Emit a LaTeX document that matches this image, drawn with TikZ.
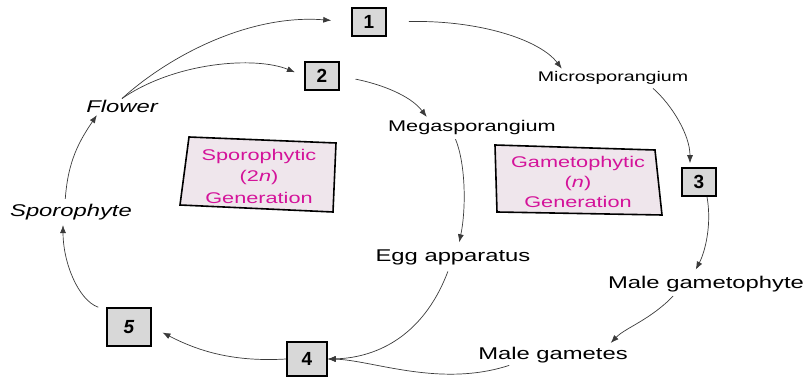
\documentclass[tikz,border=0pt]{standalone}
\usepackage{fontspec}
\setmainfont{Liberation Sans}[FakeStretch=1.4]
\newfontfamily\numfont{Liberation Sans}
\usetikzlibrary{arrows.meta}
\definecolor{boxgray}{HTML}{D8D8D8}
\definecolor{genfill}{HTML}{EFE6EC}
\definecolor{genink}{HTML}{D4139A}
\definecolor{lineink}{HTML}{3A3A3A}
\begin{document}
\begin{tikzpicture}[x=1pt,y=-1pt,
 numbox/.style={draw=black, line width=1.6pt, fill=boxgray, minimum width=34pt, minimum height=28pt, inner sep=0pt, font=\numfont\fontsize{19}{19}\selectfont\bfseries},
 lbl/.style={font=\fontsize{17}{20}\selectfont, inner sep=1pt},
 ilbl/.style={font=\fontsize{17}{20}\selectfont\itshape, inner sep=1pt},
 arr/.style={draw=lineink, line width=0.7pt, -{Latex[length=8pt,width=6pt]}},
 gen/.style={draw=black, line width=1.6pt, fill=genfill},
 gentext/.style={text=genink, align=center, font=\fontsize{15.5}{21.5}\selectfont}]
\useasboundingbox (0,0) rectangle (807,382);

% generation boxes
\draw[gen] (189,137) -- (336,143) -- (333,212) -- (180,205) -- cycle;
\node[gentext] (spgen) at (259,176) {Sporophytic\\(2\textit{n})\\Generation};
\draw[gen] (495,145) -- (655,150) -- (662,215) -- (497,212) -- cycle;
\node[gentext, font=\fontsize{15.5}{20}\selectfont] (gagen) at (578,182) {Gametophytic\\(\textit{n})\\Generation};

% numbered boxes
\node[numbox] (b1) at (369,22) {1};
\node[numbox] (b2) at (322,76) {2};
\node[numbox] (b3) at (699,182) {3};
\node[numbox, minimum width=40pt, minimum height=34pt] (b4) at (307,359) {4};
\node[numbox, minimum width=44pt, minimum height=38pt] (b5) at (129,327) {\itshape 5};

% labels
\node[lbl, font=\fontsize{14}{16}\selectfont] (micro) at (613,78) {Microsporangium};
\node[lbl, font=\fontsize{15.5}{18}\selectfont] (mega) at (472,127) {Megasporangium};
\node[ilbl] (flower) at (122,106) {Flower};
\node[ilbl] (sporo) at (71,212) {Sporophyte};
\node[lbl] (egg) at (453,257) {Egg apparatus};
\node[lbl] (malegp) at (706,284) {Male gametophyte};
\node[lbl] (malegm) at (553,355) {Male gametes};

% connectors
\draw[arr, shorten >=20pt] (flower.north) .. controls (170,55) and (250,14) .. (b1.west);
\draw[arr, shorten >=10pt] (flower.north) .. controls (175,62) and (255,56) .. (b2.west);
\draw[arr, shorten <=22pt, shorten >=2pt] (b1.east) .. controls (480,20) and (540,40) .. ([xshift=-50pt]micro.north);
\draw[arr, shorten <=16pt, shorten >=2pt] (b2.east) .. controls (380,84) and (410,95) .. ([xshift=-44pt]mega.north);
\draw[arr, shorten <=4pt, shorten >=4pt] ([xshift=37pt]micro.south) .. controls (672,105) and (690,135) .. ([xshift=-9pt]b3.north);
\draw[arr, shorten <=4pt, shorten >=6pt] ([xshift=-18pt]mega.south) .. controls (466,165) and (466,210) .. ([xshift=5pt]egg.north);
\draw[arr, shorten >=6pt] ([xshift=8pt]b3.south) .. controls (712,225) and (705,252) .. ([xshift=-13pt]malegp.north);
\draw[arr, shorten <=4pt, shorten >=4pt] ([xshift=-30pt]malegp.south) .. controls (650,320) and (625,328) .. ([xshift=55pt]malegm.north);
\draw[arr, shorten <=6pt] ([xshift=-3pt]egg.south) .. controls (422,340) and (372,358) .. (b4.east);
\draw[arr, shorten <=4pt] ([xshift=-40pt]malegm.south) .. controls (440,388) and (372,360) .. (b4.east);
\draw[arr, shorten >=12pt] (b4.west) .. controls (235,362) and (200,352) .. (b5.east);
\draw[arr, shorten >=4pt] ([xshift=-8pt]b5.north west) .. controls (78,300) and (63,262) .. ([xshift=-8pt]sporo.south);
\draw[arr, shorten <=4pt, shorten >=2pt] ([xshift=-6pt]sporo.north) .. controls (68,160) and (80,140) .. ([xshift=-24pt]flower.south);
\end{tikzpicture}
\end{document}
